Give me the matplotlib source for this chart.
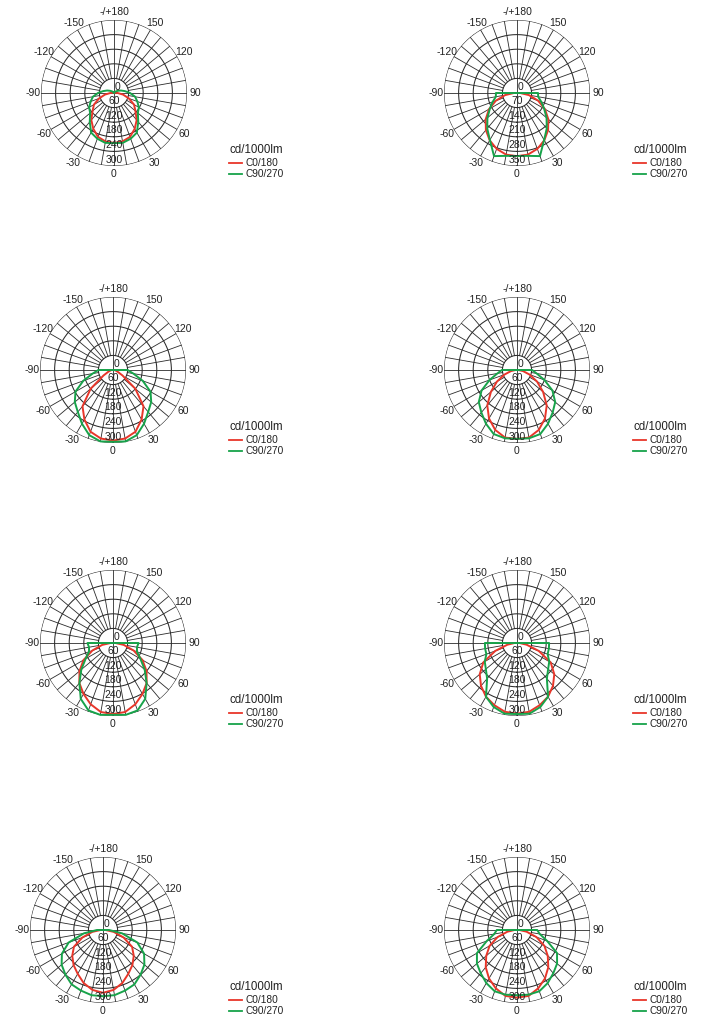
import numpy as np
import matplotlib
matplotlib.use("Agg")
import matplotlib.pyplot as plt
from matplotlib.lines import Line2D

plt.rcParams['font.family'] = ['Liberation Sans', 'DejaVu Sans']

# gamma angles (deg) shared by all curves
gamma = [0, 10, 20, 30, 40, 50, 60, 70, 80, 90, 100, 110, 120, 130, 140, 150, 160, 170, 180]

# ring labels (max value) of each panel
p1_rings = [0, 60, 120, 180, 240, 300]
p2_rings = [0, 70, 140, 210, 280, 350]
p3_rings = [0, 60, 120, 180, 240, 300]
p4_rings = [0, 60, 120, 180, 240, 300]
p5_rings = [0, 60, 120, 180, 240, 300]
p6_rings = [0, 60, 120, 180, 240, 300]
p7_rings = [0, 60, 120, 180, 240, 300]
p8_rings = [0, 60, 120, 180, 240, 300]

# C0/180 (red) and C90/270 (green) intensities, cd/1000lm
p1_red   = [205, 202, 192, 170, 145, 115, 95, 65, 38, 15, 6, 3, 2, 2, 2, 2, 2, 2, 2]
p1_green = [206, 208, 200, 188, 155, 128, 118, 102, 88, 66, 45, 30, 18, 10, 6, 4, 3, 2, 2]
p2_red   = [303, 300, 285, 262, 232, 196, 155, 108, 58, 15, 0, 0, 0, 0, 0, 0, 0, 0, 0]
p2_green = [302, 306, 322, 260, 222, 185, 150, 124, 103, 101, 0, 0, 0, 0, 0, 0, 0, 0, 0]
p3_red   = [290, 286, 270, 235, 195, 120, 45, 20, 10, 5, 0, 0, 0, 0, 0, 0, 0, 0, 0]
p3_green = [295, 298, 285, 255, 225, 205, 178, 130, 85, 60, 0, 0, 0, 0, 0, 0, 0, 0, 0]
p4_red   = [283, 282, 262, 230, 190, 140, 95, 55, 25, 5, 0, 0, 0, 0, 0, 0, 0, 0, 0]
p4_green = [283, 285, 280, 255, 228, 205, 168, 120, 82, 62, 0, 0, 0, 0, 0, 0, 0, 0, 0]
p5_red   = [292, 288, 268, 242, 215, 180, 140, 90, 45, 10, 0, 0, 0, 0, 0, 0, 0, 0, 0]
p5_green = [295, 300, 295, 265, 215, 170, 130, 105, 100, 105, 0, 0, 0, 0, 0, 0, 0, 0, 0]
p6_red   = [290, 287, 272, 255, 230, 200, 160, 95, 40, 10, 0, 0, 0, 0, 0, 0, 0, 0, 0]
p6_green = [292, 295, 280, 255, 191, 167, 153, 134, 133, 132, 0, 0, 0, 0, 0, 0, 0, 0, 0]
p7_red   = [258, 250, 232, 208, 188, 165, 138, 90, 45, 10, 0, 0, 0, 0, 0, 0, 0, 0, 0]
p7_green = [272, 272, 265, 258, 240, 222, 195, 150, 80, 25, 0, 0, 0, 0, 0, 0, 0, 0, 0]
p8_red   = [278, 275, 255, 230, 200, 165, 130, 85, 40, 10, 0, 0, 0, 0, 0, 0, 0, 0, 0]
p8_green = [268, 270, 268, 252, 232, 215, 190, 132, 95, 83, 0, 0, 0, 0, 0, 0, 0, 0, 0]

angle_ticks = [0, 30, 60, 90, 120, 150, 180, -150, -120, -90, -60, -30]
angle_labels = ['0', '30', '60', '90', '120', '150', '-/+180', '-150', '-120', '-90', '-60', '-30']
legend_title = 'cd/1000lm'
legend_names = ['C0/180', 'C90/270']

RED = '#e8362a'
GREEN = '#17a34a'
GRID = '#2b2b2b'

W, H = 710, 1024
fig = plt.figure(figsize=(W / 100, H / 100), dpi=100)

panels = [
    (114, 93, p1_rings, p1_red, p1_green, 230),
    (517, 93, p2_rings, p2_red, p2_green, 634),
    (113, 370, p3_rings, p3_red, p3_green, 230),
    (517, 370, p4_rings, p4_red, p4_green, 634),
    (113, 643, p5_rings, p5_red, p5_green, 230),
    (517, 643, p6_rings, p6_red, p6_green, 634),
    (103, 930, p7_rings, p7_red, p7_green, 230),
    (517, 930, p8_rings, p8_red, p8_green, 634),
]
R = 73.0

g = np.radians(np.array(gamma, dtype=float))
for cx, cy, rings, red, green, lx in panels:
    ax = fig.add_axes([(cx - R) / W, 1 - (cy + R) / H, 2 * R / W, 2 * R / H],
                      projection='polar')
    rmax = rings[-1]
    step = rings[1]
    ax.set_theta_zero_location('S')
    ax.set_theta_direction(1)
    ax.set_ylim(0, rmax)
    ax.grid(False)
    ax.set_xticks([])
    ax.set_yticks([])
    ax.spines['polar'].set_visible(False)
    ax.patch.set_alpha(0)

    tt = np.linspace(0, 2 * np.pi, 361)
    for rv in rings[1:]:
        ax.plot(tt, np.full_like(tt, rv), color=GRID, lw=0.75, zorder=1)
    for a in range(0, 360, 10):
        th = np.radians(a)
        r0 = 0 if a % 90 == 0 else rings[1]
        ax.plot([th, th], [r0, rmax], color=GRID, lw=0.6, zorder=1)

    # curves: right half = C0 / C90, left half = C180 / C270 (mirrored)
    for vals, col in ((red, RED), (green, GREEN)):
        v = np.array(vals, dtype=float)
        th = np.concatenate([-g[::-1], g[1:]])
        rr = np.concatenate([v[::-1], v[1:]])
        ax.plot(th, rr, color=col, lw=1.4, zorder=3, clip_on=False)

    # radial labels
    for rv in rings:
        if rv == 0:
            ax.text(np.radians(146), step * 0.48, '0', ha='center', va='center',
                    fontsize=7.5, color='#222', zorder=4)
        else:
            ax.text(0, rv - step * 0.44, str(rv), ha='center', va='center',
                    fontsize=7.5, color='#222', zorder=4)
    # angle labels
    for a, lab in zip(angle_ticks, angle_labels):
        ax.text(np.radians(a), rmax * 1.11, lab, ha='center', va='center',
                fontsize=7.5, color='#222', clip_on=False)

    # legend
    fig.text(lx / W, 1 - (cy + 57) / H, legend_title, ha='left', va='center',
             fontsize=8.3, color='#222')
    for k, (name, col) in enumerate(zip(legend_names, (RED, GREEN))):
        yy = 1 - (cy + 70 + 11 * k) / H
        fig.add_artist(Line2D([(lx - 1) / W, (lx + 12) / W], [yy, yy],
                              color=col, lw=1.3, transform=fig.transFigure))
        fig.text((lx + 15) / W, yy, name, ha='left', va='center',
                 fontsize=7.3, color='#222')

fig.savefig('out.png', dpi=100)
